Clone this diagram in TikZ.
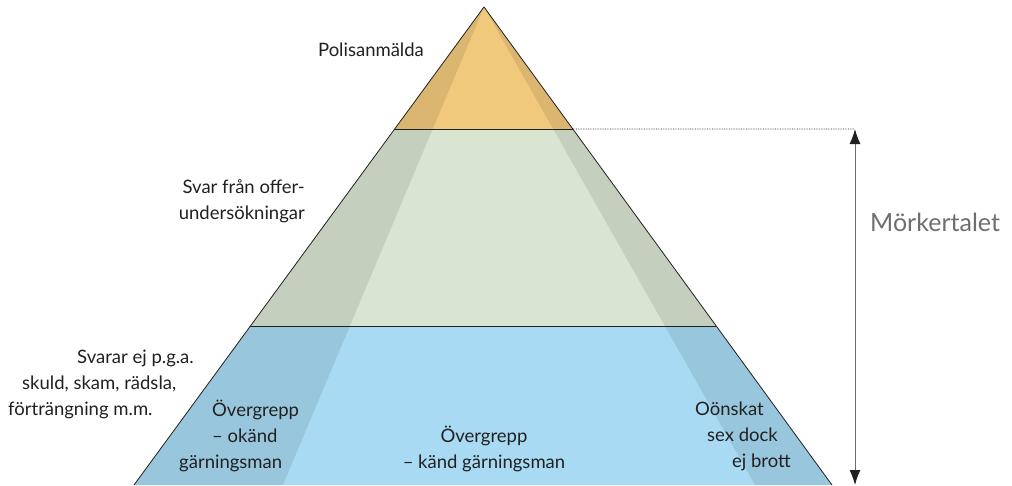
\documentclass[tikz,border=0pt]{standalone}
\usepackage{fontspec}
\setmainfont{Lato}
\usetikzlibrary{arrows.meta,calc}
\definecolor{inktext}{HTML}{231F20}
\definecolor{graytext}{HTML}{6D6E70}
\definecolor{toplight}{HTML}{F0C97C}
\definecolor{midlight}{HTML}{D9E4D1}
\definecolor{baselight}{HTML}{A8DBF3}
\tikzset{
  lbl/.style={text=inktext,font=\fontsize{18.5}{26}\selectfont,inner sep=0pt},
  shade/.style={fill=black,fill opacity=0.09},
  edge/.style={draw=inktext,line width=0.8pt}
}
\begin{document}
\begin{tikzpicture}[x=1pt,y=-1pt,>=Latex]
\useasboundingbox (0,0) rectangle (1012,485);
\coordinate (apex) at (484,7);
\coordinate (bl) at (134,485);
\coordinate (br) at (832,485);
\coordinate (t1l) at ($(apex)!0.2552!(bl)$);
\coordinate (t1r) at ($(apex)!0.2552!(br)$);
\coordinate (t2l) at ($(apex)!0.6674!(bl)$);
\coordinate (t2r) at ($(apex)!0.6674!(br)$);
% tre band
\fill[toplight] (apex)--(t1r)--(t1l)--cycle;
\fill[midlight] (t1l)--(t1r)--(t2r)--(t2l)--cycle;
\fill[baselight] (t2l)--(t2r)--(br)--(bl)--cycle;
% mörkare kilar längs sidorna
\fill[shade] (apex)--(283,485)--(bl)--cycle;
\fill[shade] (apex)--(br)--(755,485)--cycle;
\draw[edge] (bl)--(apex)--(br);
\draw[edge] (t1l)--(t1r);
\draw[edge] (t2l)--(t2r);
% mörkertalet
\coordinate (mtop) at (855,129);
\coordinate (mbot) at (855,485);
\draw[inktext,densely dotted,line width=0.7pt] (t1r)--(mtop);
\draw[{Latex[length=15pt,width=11pt,color=inktext]}-{Latex[length=15pt,width=11pt,color=inktext]},draw=graytext,line width=1pt] (mtop)--(mbot);
\node[text=graytext,font=\fontsize{25}{30}\selectfont,inner sep=0pt,anchor=west] (mork) at (870,222) {Mörkertalet};
\node[lbl] (polis) at (371,50) {Polisanmälda};
\node[lbl,align=right,anchor=east] (offer) at (305,201) {Svar från offer-\\undersökningar};
\node[lbl,align=left,anchor=west] (svarar) at (8,384) {\hspace*{69pt}Svarar ej p.g.a.\\\hspace*{14pt}skuld, skam, rädsla,\\förträngning m.m.};
\node[lbl,align=left,anchor=west] (okand) at (212,436) {Övergrepp\\– okänd\\\hspace*{-33pt}gärningsman};
\node[lbl,align=center] (kand) at (484,449) {Övergrepp\\– känd gärningsman};
\node[lbl,align=left,anchor=west] (onskat) at (695,436) {Oönskat\\\hspace*{12pt}sex dock\\\hspace*{37pt}ej brott};
\end{tikzpicture}
\end{document}
